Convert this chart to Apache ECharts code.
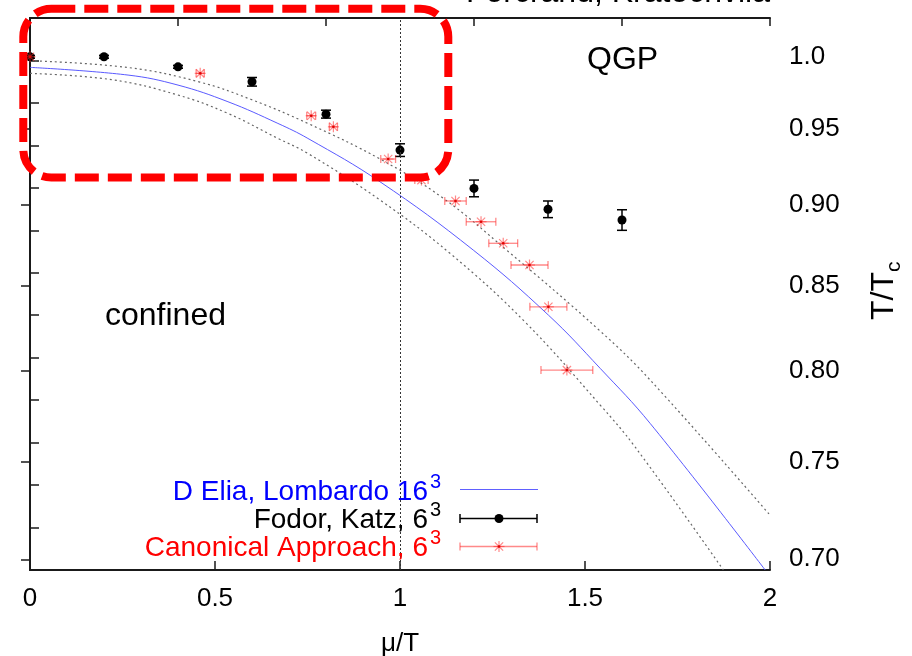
<!DOCTYPE html>
<html><head><meta charset="utf-8">
<script src="https://cdn.jsdelivr.net/npm/echarts@6/dist/echarts.min.js"></script>
<style>html,body{margin:0;padding:0;background:#fff}#c{width:912px;height:656px}</style>
</head><body><div id="c"></div>
<script>
const FONT = '"Liberation Sans", Arial, sans-serif';

// axis ticks
const muTicks = [0, 0.5, 1, 1.5, 2];
const tTicks = [0.70, 0.75, 0.80, 0.85, 0.90, 0.95, 1.0];

// D'Elia, Lombardo fit curve and its band
const eliaMu  = [0, 0.265, 0.400, 0.535, 0.670, 0.751, 0.946, 1.198, 1.401, 1.541, 1.676, 1.987];
const eliaT   = [0.9925, 0.9871, 0.9801, 0.9686, 0.9538, 0.9437, 0.9151, 0.8718, 0.8325, 0.8016, 0.7709, 0.6947];
const upperMu = [0, 0.265, 0.459, 0.598, 0.751, 0.946, 1.116, 1.288, 1.541, 1.676, 2.0];
const upperT  = [0.9972, 0.9924, 0.9822, 0.9701, 0.9538, 0.9300, 0.9046, 0.8718, 0.8231, 0.7950, 0.7223];
const lowerMu = [0, 0.220, 0.400, 0.535, 0.670, 0.751, 0.946, 1.135, 1.338, 1.541, 1.635, 1.874];
const lowerT  = [0.9883, 0.9839, 0.9732, 0.9606, 0.9437, 0.9337, 0.9033, 0.8698, 0.8284, 0.7810, 0.7582, 0.6947];

// Fodor, Katz points (vertical errors)
const fodorMu  = [0, 0.2, 0.4, 0.6, 0.8, 1.0, 1.2, 1.4, 1.6];
const fodorT   = [1.000, 1.000, 0.9929, 0.9824, 0.9601, 0.9359, 0.9108, 0.8974, 0.8906];
const fodorErr = [0.001, 0.001, 0.001, 0.003, 0.0027, 0.0042, 0.0054, 0.0053, 0.0065];

// Canonical approach points (horizontal errors)
const canonMu  = [0, 0.460, 0.760, 0.820, 0.968, 1.058, 1.150, 1.219, 1.279, 1.350, 1.401, 1.451];
const canonT   = [1.000, 0.9883, 0.9590, 0.9515, 0.9300, 0.9162, 0.9027, 0.8895, 0.8760, 0.8626, 0.8374, 0.8006];
const canonErr = [0, 0.011, 0.012, 0.011, 0.020, 0.018, 0.029, 0.040, 0.039, 0.050, 0.050, 0.070];

const legendNames = ['D Elia, Lombardo 16', 'Fodor, Katz, 6', 'Canonical Approach, 6'];
const legendSup = '3';
const regionLabels = ['QGP', 'confined'];
const topNote = 'Forcrand, Kratochvila';

const zip = (a, b, c) => a.map((v, i) => c ? [v, b[i], c[i]] : [v, b[i]]);

const RED = 'rgba(255,40,40,0.55)';
function starShapes(cx, cy, s, color) {
  const d = s * 0.75;
  const st = { stroke: color, lineWidth: 1.2 };
  return [
    { type: 'line', shape: { x1: cx - s, y1: cy, x2: cx + s, y2: cy }, style: st },
    { type: 'line', shape: { x1: cx, y1: cy - s, x2: cx, y2: cy + s }, style: st },
    { type: 'line', shape: { x1: cx - d, y1: cy - d, x2: cx + d, y2: cy + d }, style: st },
    { type: 'line', shape: { x1: cx - d, y1: cy + d, x2: cx + d, y2: cy - d }, style: st },
    { type: 'circle', shape: { cx: cx, cy: cy, r: 1.3 }, style: { fill: 'rgba(220,0,0,0.9)' } }
  ];
}

function renderFodor(params, api) {
  const mu = api.value(0), t = api.value(1), e = api.value(2);
  const c = api.coord([mu, t]);
  const hi = api.coord([mu, t + e]);
  const lo = api.coord([mu, t - e]);
  const hw = 5;
  const st = { stroke: '#000', lineWidth: 1.5 };
  return { type: 'group', children: [
    { type: 'line', shape: { x1: c[0], y1: hi[1], x2: c[0], y2: lo[1] }, style: st },
    { type: 'line', shape: { x1: c[0] - hw, y1: hi[1], x2: c[0] + hw, y2: hi[1] }, style: st },
    { type: 'line', shape: { x1: c[0] - hw, y1: lo[1], x2: c[0] + hw, y2: lo[1] }, style: st },
    { type: 'circle', shape: { cx: c[0], cy: c[1], r: 4.5 }, style: { fill: '#000' } }
  ] };
}

function renderCanon(params, api) {
  const mu = api.value(0), t = api.value(1), e = api.value(2);
  const c = api.coord([mu, t]);
  const l = api.coord([mu - e, t]);
  const r = api.coord([mu + e, t]);
  const children = [];
  if (e > 0) {
    const st = { stroke: RED, lineWidth: 1.3 };
    children.push(
      { type: 'line', shape: { x1: l[0], y1: c[1], x2: r[0], y2: c[1] }, style: st },
      { type: 'line', shape: { x1: l[0], y1: c[1] - 4, x2: l[0], y2: c[1] + 4 }, style: st },
      { type: 'line', shape: { x1: r[0], y1: c[1] - 4, x2: r[0], y2: c[1] + 4 }, style: st }
    );
  }
  return { type: 'group', children: children.concat(starShapes(c[0], c[1], 5.5, RED)) };
}

const axisLine = { show: true, lineStyle: { color: '#1a1a1a', width: 2 } };
const tickStyle = { color: '#1a1a1a', width: 1.5 };

const legendY = [492, 520, 548];
const legendColors = ['#0000ff', '#000000', '#ff0000'];
const graphics = [];
legendNames.forEach((name, i) => {
  graphics.push({ type: 'text', z: 50, style: { text: name, x: 428, y: legendY[i], font: '28px ' + FONT, fill: legendColors[i], align: 'right', textAlign: 'right', verticalAlign: 'middle', textVerticalAlign: 'middle' } });
  graphics.push({ type: 'text', z: 50, style: { text: legendSup, x: 430, y: legendY[i] - 10, font: '20px ' + FONT, fill: legendColors[i], align: 'left', textAlign: 'left', verticalAlign: 'middle', textVerticalAlign: 'middle' } });
});
// legend samples
graphics.push({ type: 'line', z: 50, shape: { x1: 460, y1: 489.5, x2: 538, y2: 489.5 }, style: { stroke: '#6060ff', lineWidth: 1 } });
graphics.push({ type: 'group', z: 50, children: [
  { type: 'line', shape: { x1: 460, y1: 518.5, x2: 537, y2: 518.5 }, style: { stroke: '#000', lineWidth: 1.5 } },
  { type: 'line', shape: { x1: 460, y1: 514, x2: 460, y2: 523 }, style: { stroke: '#000', lineWidth: 1.5 } },
  { type: 'line', shape: { x1: 537, y1: 514, x2: 537, y2: 523 }, style: { stroke: '#000', lineWidth: 1.5 } },
  { type: 'circle', shape: { cx: 499, cy: 518.5, r: 4.5 }, style: { fill: '#000' } }
] });
graphics.push({ type: 'group', z: 50, children: [
  { type: 'line', shape: { x1: 460, y1: 546.5, x2: 537, y2: 546.5 }, style: { stroke: RED, lineWidth: 1.3 } },
  { type: 'line', shape: { x1: 460, y1: 542.5, x2: 460, y2: 550.5 }, style: { stroke: RED, lineWidth: 1.3 } },
  { type: 'line', shape: { x1: 537, y1: 542.5, x2: 537, y2: 550.5 }, style: { stroke: RED, lineWidth: 1.3 } }
].concat(starShapes(499, 546.5, 5.5, RED)) });
// region labels
graphics.push({ type: 'text', z: 50, style: { text: regionLabels[0], x: 587, y: 60, font: '32px ' + FONT, fill: '#000', align: 'left', textAlign: 'left', verticalAlign: 'middle', textVerticalAlign: 'middle' } });
graphics.push({ type: 'text', z: 50, style: { text: regionLabels[1], x: 105, y: 316, font: '32px ' + FONT, fill: '#000', align: 'left', textAlign: 'left', verticalAlign: 'middle', textVerticalAlign: 'middle' } });
graphics.push({ type: 'text', z: 50, style: { text: topNote, x: 770, y: -7, font: '32px ' + FONT, fill: '#000', align: 'right', textAlign: 'right', verticalAlign: 'middle', textVerticalAlign: 'middle' } });
// T/Tc axis title (rotated)
graphics.push({ type: 'group', x: 884, y: 296, rotation: Math.PI / 2, z: 50, children: [
  { type: 'text', style: { text: 'T/T', x: 0, y: 0, font: '32px ' + FONT, fill: '#000', align: 'center', textAlign: 'center', verticalAlign: 'middle', textVerticalAlign: 'middle' } },
  { type: 'text', style: { text: 'c', x: 24, y: 10, font: '21px ' + FONT, fill: '#000', align: 'left', textAlign: 'left', verticalAlign: 'middle', textVerticalAlign: 'middle' } }
] });
// red dashed highlight box
graphics.push({ type: 'rect', z: 100, shape: { x: 23.3, y: 8.8, width: 425, height: 168.7, r: 28 }, style: { fill: 'none', stroke: '#ff0000', lineWidth: 8, lineDash: [24, 9] } });

const curveStyle = { showSymbol: false, smooth: 0.4, xAxisIndex: 0, yAxisIndex: 0 };

const option = {
  animation: false,
  backgroundColor: '#fff',
  grid: { left: 30, right: 142, top: 18, bottom: 86, containLabel: false, outerBoundsMode: 'none' },
  xAxis: [
    { type: 'value', position: 'bottom', min: 0, max: 2, interval: 0.5,
      axisLine: axisLine, splitLine: { show: false },
      axisTick: { inside: true, length: 9, lineStyle: tickStyle },
      axisLabel: { margin: 16, fontSize: 26, fontFamily: FONT, color: '#000' },
      name: 'μ/T', nameLocation: 'middle', nameGap: 61,
      nameTextStyle: { fontSize: 26, fontFamily: FONT, color: '#000' } },
    { type: 'value', position: 'top', min: 0, max: 2, interval: 0.4,
      axisLine: axisLine, splitLine: { show: false },
      axisTick: { inside: true, length: 8, lineStyle: tickStyle },
      axisLabel: { show: false } }
  ],
  yAxis: [
    { type: 'log', position: 'right', min: 0.6947, max: 1.0279,
      axisLine: axisLine, splitLine: { show: false }, minorTick: { show: false },
      axisTick: { inside: true, length: 9, lineStyle: tickStyle, customValues: tTicks },
      axisLabel: { customValues: tTicks, margin: 19, fontSize: 26, fontFamily: FONT, color: '#000',
        formatter: v => (Math.abs(v - 1) < 1e-6 ? '1.0' : Number(v).toFixed(2)) } },
    { type: 'value', position: 'left', min: 0, max: 13, interval: 1,
      axisLine: axisLine, splitLine: { show: false },
      axisTick: { inside: true, length: 9, lineStyle: tickStyle },
      axisLabel: { show: false } }
  ],
  series: [
    Object.assign({ name: 'D Elia, Lombardo', type: 'line', data: zip(eliaMu, eliaT),
      lineStyle: { color: '#5a5aff', width: 1 }, z: 3,
      markLine: { silent: true, symbol: 'none', label: { show: false },
        lineStyle: { color: '#333', width: 1, type: [2, 2] }, data: [{ xAxis: 1 }] } }, curveStyle),
    Object.assign({ name: 'upper', type: 'line', data: zip(upperMu, upperT),
      lineStyle: { color: '#666', width: 1.2, type: [2, 3] }, z: 2 }, curveStyle),
    Object.assign({ name: 'lower', type: 'line', data: zip(lowerMu, lowerT),
      lineStyle: { color: '#666', width: 1.2, type: [2, 3] }, z: 2 }, curveStyle),
    { name: 'Fodor, Katz', type: 'custom', xAxisIndex: 0, yAxisIndex: 0, clip: false,
      renderItem: renderFodor, data: zip(fodorMu, fodorT, fodorErr), encode: { x: 0, y: 1 }, z: 4 },
    { name: 'Canonical', type: 'custom', xAxisIndex: 0, yAxisIndex: 0, clip: false,
      renderItem: renderCanon, data: zip(canonMu, canonT, canonErr), encode: { x: 0, y: 1 }, z: 5 }
  ],
  graphic: graphics
};

const chart = echarts.init(document.getElementById('c'), null, { renderer: 'canvas' });
chart.setOption(option);
</script>
</body></html>
